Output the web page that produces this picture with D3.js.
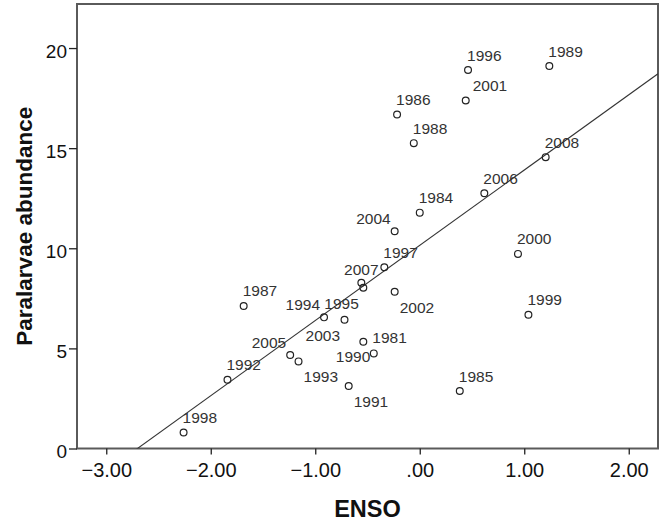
<!DOCTYPE html>
<html>
<head>
<meta charset="utf-8">
<script src="https://cdn.jsdelivr.net/npm/d3@7"></script>
<style>
  body { margin: 0; background: #fff; }
  svg { display: block; font-family: "Liberation Sans", Arial, sans-serif; }
</style>
</head>
<body>
<div id="chart"></div>
<script>
// values
const years = [1981, 1984, 1985, 1986, 1987, 1988, 1989, 1990, 1991, 1992, 1993, 1994, 1995,
    1996, 1997, 1998, 1999, 2000, 2001, 2002, 2003, 2004, 2005, 2006, 2007, 2008];
const enso = [-0.54, 0.00, 0.383, -0.217, -1.685, -0.057, 1.24, -0.44, -0.68, -1.84, -1.16, -0.916, -0.54,
    0.462, -0.339, -2.26, 1.04, 0.94, 0.44, -0.24, -0.72, -0.24, -1.24, 0.618, -0.559, 1.205];
const abundance = [5.33, 11.78, 2.87, 16.68, 7.12, 15.25, 19.1, 4.75, 3.12, 3.43, 4.35, 6.55, 8.03,
    18.9, 9.05, 0.8, 6.68, 9.72, 17.38, 7.83, 6.43, 10.85, 4.67, 12.75, 8.28, 14.55];
const xTicks = [-3, -2, -1, 0, 1, 2];
const yTicks = [0, 5, 10, 15, 20];

// where each year label sits relative to its point (default: up-right)
const labelPlace = {
    2001: "ur2", 1994: "ul", 2004: "ul", 2005: "ul",
    2003: "ll", 1995: "ll", 2002: "lr", 1991: "lr", 1993: "lr",
    1981: "r", 1990: "l", 2007: "u"
};
const placeStyle = {
    ur: {anchor: "start", dx: -1, dy: -9.5},
    ur2: {anchor: "start", dx: 7, dy: -10},
    ul: {anchor: "end", dx: -4, dy: -7},
    ll: {anchor: "end", dx: -4.5, dy: 21},
    lr: {anchor: "start", dx: 5, dy: 21},
    r: {anchor: "start", dx: 9, dy: 1},
    l: {anchor: "end", dx: -3.5, dy: 9},
    u: {anchor: "middle", dx: 0, dy: -8}
};

const data = years.map((yr, i) => ({year: yr, x: enso[i], y: abundance[i]}));

const W = 659, H = 522;
const plot = {left: 77, right: 658, top: 4, bottom: 448.5};

const svg = d3.select("#chart").append("svg")
    .attr("width", W)
    .attr("height", H);

const x = d3.scaleLinear().domain([-3.28, 2.28]).range([plot.left, plot.right]);
const y = d3.scaleLinear().domain([0, 22.2]).range([plot.bottom, plot.top]);

// least squares fit line
const mx = d3.mean(data, d => d.x), my = d3.mean(data, d => d.y);
const slope = d3.sum(data, d => (d.x - mx) * (d.y - my)) / d3.sum(data, d => (d.x - mx) ** 2);
const icpt = my - slope * mx;

svg.append("clipPath").attr("id", "clip")
    .append("rect")
    .attr("x", plot.left).attr("y", plot.top)
    .attr("width", plot.right - plot.left)
    .attr("height", plot.bottom - plot.top);

// frame
svg.append("rect")
    .attr("x", plot.left).attr("y", plot.top)
    .attr("width", plot.right - plot.left)
    .attr("height", plot.bottom - plot.top)
    .attr("fill", "none")
    .attr("stroke", "#5a5a5a")
    .attr("stroke-width", 2);

// X axis
svg.append("g")
    .attr("transform", "translate(0," + plot.bottom + ")")
    .call(d3.axisBottom(x).tickValues(xTicks).tickSize(6).tickPadding(8)
        .tickFormat(d => d === 0 ? ".00" : d3.format(".2f")(d)))
    .call(g => g.select(".domain").remove())
    .call(g => g.selectAll("line").attr("stroke", "#222").attr("stroke-width", 1.3))
    .selectAll("text")
    .attr("fill", "#111")
    .style("font-size", "20px");

// Y axis
svg.append("g")
    .attr("transform", "translate(" + plot.left + ",0)")
    .call(d3.axisLeft(y).tickValues(yTicks).tickSize(8).tickPadding(2))
    .call(g => g.select(".domain").remove())
    .call(g => g.selectAll("line").attr("stroke", "#222").attr("stroke-width", 1.3))
    .selectAll("text")
    .attr("fill", "#111")
    .attr("dy", "0.48em")
    .style("font-size", "19px");

// fit line
const xd = x.domain();
svg.append("line")
    .attr("clip-path", "url(#clip)")
    .attr("x1", x(xd[0])).attr("y1", y(icpt + slope * xd[0]))
    .attr("x2", x(xd[1])).attr("y2", y(icpt + slope * xd[1]))
    .attr("stroke", "#333")
    .attr("stroke-width", 1.1);

// points
svg.selectAll("circle.pt")
    .data(data)
    .enter()
    .append("circle")
    .attr("class", "pt")
    .attr("cx", d => x(d.x))
    .attr("cy", d => y(d.y))
    .attr("r", 3.4)
    .attr("fill", "none")
    .attr("stroke", "#222")
    .attr("stroke-width", 1.2);

// year labels
svg.selectAll("text.lbl")
    .data(data)
    .enter()
    .append("text")
    .attr("class", "lbl")
    .each(function (d) {
        const p = placeStyle[labelPlace[d.year] || "ur"];
        d3.select(this)
            .attr("x", x(d.x) + p.dx)
            .attr("y", y(d.y) + p.dy)
            .attr("text-anchor", p.anchor);
    })
    .attr("fill", "#333")
    .style("font-size", "15.5px")
    .text(d => d.year);

// axis titles
svg.append("text")
    .attr("x", (plot.left + plot.right) / 2)
    .attr("y", 516.5)
    .attr("text-anchor", "middle")
    .style("font-size", "23.5px")
    .style("font-weight", "bold")
    .attr("fill", "#111")
    .text("ENSO");

svg.append("text")
    .attr("transform", "translate(32," + (plot.top + plot.bottom) / 2 + ") rotate(-90)")
    .attr("text-anchor", "middle")
    .style("font-size", "22.5px")
    .style("font-weight", "bold")
    .attr("fill", "#111")
    .text("Paralarvae abundance");
</script>
</body>
</html>
